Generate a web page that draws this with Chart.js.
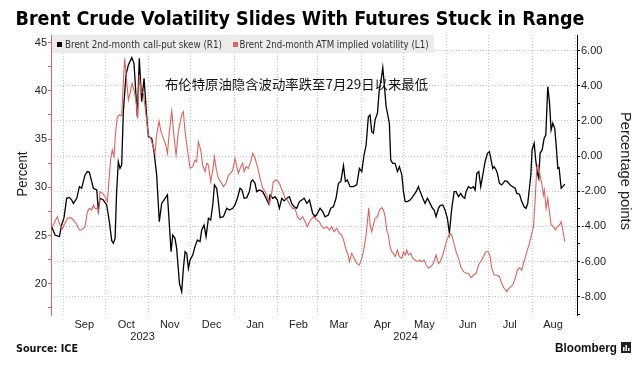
<!DOCTYPE html>
<html>
<head>
<meta charset="utf-8">
<script src="https://cdn.jsdelivr.net/npm/chart.js@4.4.1/dist/chart.umd.min.js"></script>
<style>
  html, body { margin: 0; padding: 0; background: #fff; }
  #wrap { position: relative; width: 643px; height: 365px; }
</style>
</head>
<body>
<div id="wrap"><canvas id="chart" width="643" height="365"></canvas></div>
<script>
// x positions are days counted from 1 Sep 2023
const monthLabels = ["Sep", "Oct", "Nov", "Dec", "Jan", "Feb", "Mar", "Apr", "May", "Jun", "Jul", "Aug"];
const monthStarts = [0, 30, 61, 91, 122, 153, 182, 213, 243, 274, 304, 335, 366];
const yearLabels = ["2023", "2024"];
const yearBreak = 122; // 1 Jan 2024

const leftTicks = [17.5, 20, 22.5, 25, 27.5, 30, 32.5, 35, 37.5, 40, 42.5, 45];
const rightTicks = [-9, -8, -7, -6, -5, -4, -3, -2, -1, 0, 1, 2, 3, 4, 5, 6];

// Brent 2nd-month call-put skew (R1), percentage points
const skewDays = [
  -8.3, -5.9, -2.8, -1.2, 0.5, 2.4, 4.3, 6.0, 7.2, 9.6, 11.5, 13.1, 15.5, 17.2, 18.6, 20.3, 21.5, 23.9, 25.0, 26.2,
  28.6, 31.0, 32.9, 34.6, 35.8, 37.0, 38.1, 39.3, 40.5, 41.7, 42.9, 44.8, 46.5, 48.9, 50.5, 52.9, 54.3, 56.0, 57.7, 59.6,
  60.8, 63.2, 64.8, 66.7, 68.6, 70.3, 72.7, 74.4, 75.8, 77.0, 78.2, 79.8, 81.0, 83.0,
  84.6, 85.8, 87.0, 88.2, 89.4, 90.6, 92.5, 94.1, 95.8, 97.7, 98.9, 100.6, 102.0, 103.7, 105.3, 106.8, 108.0, 109.6, 110.8, 112.0,
  114.4, 116.8, 118.7, 121.1, 122.7, 124.4, 126.3, 127.7, 129.2, 131.1, 133.0, 134.2, 135.4, 137.0, 138.2, 140.1, 142.5, 144.9, 146.6, 147.7,
  149.7, 151.3, 153.0, 154.4, 156.1, 157.8, 159.7, 161.6, 163.2, 164.9, 166.8, 168.7, 170.4, 172.1, 174.0, 175.9,
  178.2, 179.9, 181.6, 183.5, 185.4, 187.1, 189.4, 191.1, 193.0, 194.9, 196.6, 198.3, 200.2, 201.6, 203.0, 204.9, 207.3, 209.7, 211.6, 213.3,
  214.9, 216.4, 218.0, 219.2, 220.4, 221.6, 222.8, 224.5, 225.9, 227.3, 228.3, 229.2, 230.7, 233.0, 234.0, 235.4, 237.1, 238.8, 240.2, 241.9,
  243.1, 244.3, 245.9, 247.8, 249.7, 252.1, 253.8, 255.0, 256.9, 258.5, 260.2, 262.1, 263.8, 265.0, 266.4, 268.1,
  269.3, 271.2, 272.8, 274.5, 275.9, 277.6, 279.3, 280.7, 282.4, 284.0, 285.5, 286.9, 287.8, 289.5, 291.2, 293.1, 294.3, 295.5, 296.9, 298.3,
  299.8, 301.4, 303.1, 304.5, 305.5, 306.9, 307.9, 309.3, 310.2, 311.7, 313.3, 315.7, 317.4, 319.3, 321.2, 322.9, 324.1, 326.0, 327.6, 329.3,
  330.7, 331.9, 333.1, 334.1, 335.0, 336.5, 337.6, 338.8, 339.8, 340.7, 342.2, 343.6, 344.8, 346.2, 347.4, 348.6, 349.8, 351.2, 352.2, 353.4,
  354.3, 355.8, 356.9, 358.4
];
const skewValues = [
  -4.02, -4.49, -4.58, -3.92, -3.50, -2.40, -2.35, -2.50, -2.69, -2.40, -1.74, -1.83, -1.07, -0.88, -0.92, -1.45, -1.83, -1.93, -3.07, -2.40,
  -2.50, -2.78, -3.73, -4.81, -4.96, -4.68, -2.02, -0.32, -0.70, -0.51, 2.53, 4.62, 5.19, 5.60, 5.28, 2.24, 5.57, 3.10, 4.43, 2.24,
  1.11, 1.01, 0.25, -1.07, -3.73, -2.69, -2.40, -2.21, -3.92, -5.44, -4.49, -4.68, -5.25, -7.24,
  -7.71, -6.39, -5.44, -5.53, -6.39, -5.91, -5.63, -5.15, -4.77, -4.87, -4.20, -3.92, -4.58, -3.54, -3.64, -2.78, -1.64, -1.83, -2.59, -3.50,
  -3.45, -2.97, -3.07, -2.97, -2.78, -2.40, -1.83, -1.93, -2.40, -2.36, -2.02, -1.45, -1.36, -1.55, -2.02, -1.93, -2.02, -2.40, -2.69, -2.21,
  -2.40, -2.31, -2.50, -2.97, -2.40, -2.55, -2.40, -2.31, -2.69, -2.88, -2.97, -2.59, -2.50, -2.40, -2.69, -2.50,
  -3.26, -3.45, -3.26, -2.97, -3.16, -3.45, -3.35, -2.97, -2.88, -2.40, -1.55, -1.45, -0.54, -1.45, -1.36, -1.74, -1.74, -1.64, -0.70, -0.88,
  0.06, 0.63, 2.24, 2.34, 1.39, 1.30, 2.06, 2.44, 3.86, 4.43, 5.03, 4.24, 2.82, 1.87, -0.22, -0.41, -0.41, -0.88, -0.60, -1.07,
  -2.02, -2.59, -2.59, -2.50, -2.31, -2.02, -1.74, -2.02, -2.40, -2.69, -2.40, -2.69, -2.97, -3.07, -3.45, -2.97,
  -2.82, -2.78, -3.07, -3.54, -4.39, -2.97, -2.02, -2.02, -2.31, -2.12, -2.31, -2.40, -2.02, -1.74, -1.83, -1.74, -1.93, -0.98, -0.88, -1.74,
  -1.07, -0.32, 0.16, 0.25, -0.13, -0.70, -0.60, -0.79, -0.98, -1.55, -1.64, -1.40, -1.45, -1.64, -1.74, -1.83, -2.12, -2.17, -2.59, -2.88,
  -2.97, -2.69, -1.83, -1.07, 0.35, 0.73, -0.22, -0.98, -1.26, 0.16, 0.35, 1.01, 1.20, 3.95, 3.10, 1.49, 1.87, 1.58, 0.63, -0.70,
  -0.66, -1.83, -1.74, -1.59
];

// Brent 2nd-month ATM implied volatility (L1), percent
const volDays = [
  -8.3, -6.6, -4.3, -2.4, -0.5, 1.2, 2.9, 5.3, 7.2, 9.1, 11.5, 13.1, 15.5, 17.2, 18.6, 20.3, 21.5, 22.7, 24.3, 25.3,
  26.2, 28.1, 29.8, 31.5, 32.9, 33.9, 35.0, 36.2, 37.2, 38.6, 40.0, 41.7, 42.9, 43.9, 45.3, 46.5, 47.7, 49.1, 50.5, 52.0,
  53.2, 54.3, 55.5, 57.2, 59.1, 60.8, 62.4, 63.9, 65.5, 66.7, 68.4, 69.8, 71.5, 73.2, 74.4, 75.8, 77.5, 79.1, 80.6, 82.2,
  84.6, 85.8, 87.0, 88.7, 90.6, 92.5, 94.1, 95.3, 96.5, 98.2, 99.6, 101.3, 102.5, 103.7, 105.3, 106.8, 108.0, 109.2, 110.8, 112.5,
  114.4, 116.3, 118.0, 119.6, 121.1, 122.7, 123.9, 125.1, 126.8, 128.2, 129.2, 130.6, 132.3, 133.9, 135.4, 137.0, 138.7, 140.6, 142.5, 144.2,
  145.8, 147.3, 148.9, 150.1, 152.0, 153.7, 154.9, 156.8, 158.5, 160.1, 162.0, 163.9, 165.6, 167.3, 169.2, 171.1, 172.8, 174.4, 175.9,
  178.7, 181.1, 183.0, 184.7, 186.4, 188.3, 190.2, 191.8, 193.5, 195.4, 197.3, 199.0, 200.6, 202.1, 203.5, 204.5, 206.1, 207.8, 209.7, 211.6,
  213.3, 214.9, 216.4, 217.3, 218.3, 219.2, 220.4, 221.6, 222.8, 224.5, 225.9, 227.6, 228.8, 230.0, 231.1, 232.3, 233.5, 234.7, 235.9, 237.1,
  238.8, 240.2, 241.9, 243.1, 244.3, 245.4, 246.6, 248.3, 249.7, 251.4, 253.1, 254.5, 256.2, 257.8, 259.3, 260.9, 262.6, 264.5, 266.4, 268.1,
  269.3, 271.2, 272.8, 274.5, 276.4, 277.6, 278.8, 280.7, 282.4, 284.0, 286.0, 287.8, 289.5, 291.2, 293.1, 295.0, 296.7, 298.3, 300.2, 302.1,
  303.8, 305.0, 306.2, 307.9, 309.8, 311.7, 313.3, 315.0, 316.9, 318.1, 319.8, 321.2, 322.9, 324.5, 326.0, 327.6, 328.8, 330.3, 331.7, 333.1,
  334.5, 336.0, 337.2, 338.4, 339.6, 340.7, 341.9, 343.1, 343.8, 345.0, 346.2, 347.4, 348.6, 350.3, 351.7, 353.1, 354.6, 355.8, 356.9, 358.4
];
const volValues = [
  25.81, 26.26, 26.95, 26.09, 25.74, 26.26, 26.78, 26.85, 26.61, 26.26, 25.57, 25.57, 25.91, 27.47, 27.81, 27.64, 28.16, 27.81, 27.81, 27.47,
  29.54, 29.37, 29.02, 28.51, 31.27, 32.99, 33.86, 33.17, 35.41, 37.31, 37.49, 37.42, 40.94, 43.36, 40.94, 39.04, 39.73, 40.77, 40.08, 38.87,
  37.14, 41.63, 39.90, 39.73, 37.49, 35.41, 35.07, 34.38, 33.51, 35.41, 36.86, 35.76, 35.07, 34.38, 33.51, 35.76, 37.90, 35.24, 33.34, 35.76,
  37.49, 37.83, 35.76, 33.86, 31.96, 32.13, 32.82, 32.65, 34.72, 33.86, 32.30, 31.61, 32.48, 32.30, 30.58, 31.79, 33.17, 31.96, 30.92, 30.58,
  30.06, 30.41, 31.27, 31.44, 31.79, 33.00, 32.13, 31.44, 32.13, 32.48, 31.61, 32.13, 31.96, 32.65, 33.51, 33.00, 32.13, 30.92, 29.89, 29.54,
  29.02, 28.23, 29.37, 30.58, 30.75, 30.58, 30.23, 29.54, 28.85, 28.68, 28.16, 27.81, 27.81, 26.95, 26.61, 26.95, 26.43, 25.91, 26.43,
  26.95, 26.61, 26.43, 25.91, 25.74, 25.91, 25.57, 25.91, 25.40, 25.74, 25.22, 25.05, 24.36, 23.50, 22.98, 22.29, 23.15, 22.63, 22.11, 21.94,
  22.63, 23.67, 25.05, 26.43, 27.88, 26.09, 25.40, 26.09, 26.78, 26.95, 27.64, 27.88, 27.64, 26.95, 25.57, 25.05, 23.84, 23.32, 23.15, 22.81,
  23.50, 22.81, 22.63, 23.32, 22.98, 23.50, 22.98, 23.15, 22.63, 22.46, 22.29, 22.46, 22.29, 22.46, 21.94, 21.60, 21.77, 22.11, 22.98, 22.11,
  22.29, 22.98, 23.84, 24.70, 25.22, 25.05, 24.36, 23.32, 22.63, 21.77, 21.25, 21.08, 21.08, 20.63, 20.90, 21.08, 21.94, 22.29, 22.81, 23.32,
  23.32, 22.81, 21.60, 20.90, 20.90, 20.73, 20.04, 19.53, 19.18, 19.46, 19.70, 19.87, 20.56, 21.42, 21.67, 21.42, 22.11, 22.81, 23.50, 24.19,
  25.05, 25.91, 28.68, 32.13, 32.30, 31.27, 30.41, 29.20, 29.71, 27.81, 28.85, 27.47, 26.09, 25.91, 25.57, 25.91, 26.09, 26.43, 25.57, 24.36
];

const RED = "#e0625d";
const SKEW_LABEL = "Brent 2nd-month call-put skew (R1)";
const VOL_LABEL = "Brent 2nd-month ATM implied volatility (L1)";
const NOTE = "布伦特原油隐含波动率跌至7月29日以来最低";

// draw text centred on (cx, cy), squeezed/stretched to a given width
function fitText(ctx, text, cx, cy, width, font, color, rot) {
  ctx.save();
  ctx.font = font;
  ctx.fillStyle = color;
  ctx.textAlign = "center";
  ctx.textBaseline = "middle";
  const s = width / ctx.measureText(text).width;
  ctx.translate(cx, cy);
  ctx.rotate(rot || 0);
  ctx.scale(s, 1);
  ctx.fillText(text, 0, 0);
  ctx.restore();
}

const decor = {
  id: "decor",
  beforeDatasetsDraw(chart) {
    const ctx = chart.ctx;
    const a = chart.chartArea;
    // legend box
    ctx.save();
    ctx.fillStyle = "#ececec";
    ctx.fillRect(a.left + 1, a.top, 382, 18);
    ctx.fillStyle = "#000";
    ctx.fillRect(57, 42, 5, 5);
    ctx.fillStyle = RED;
    ctx.fillRect(233, 42, 5, 5);
    ctx.restore();
    fitText(ctx, SKEW_LABEL, 143.5, 45, 157, '10px "DejaVu Sans"', "#333");
    fitText(ctx, VOL_LABEL, 334, 45, 189, '10px "DejaVu Sans"', "#333");
  },
  afterDatasetsDraw(chart) {
    fitText(chart.ctx, NOTE, 296.5, 84, 263, '13px "Noto Sans CJK SC"', "#111");
  },
  afterDraw(chart) {
    const ctx = chart.ctx;
    const x = chart.scales.x;
    fitText(ctx, "Brent Crude Volatility Slides With Futures Stuck in Range", 300, 20, 569, 'bold 20px "DejaVu Sans"', "#000");
    fitText(ctx, "Percent", 23, 174, 45, '14px "Liberation Sans"', "#222", -Math.PI / 2);
    fitText(ctx, "Percentage points", 625, 171, 118, '14px "Liberation Sans"', "#222", Math.PI / 2);
    // year labels centred on the visible part of each year
    const y23 = (x.getPixelForValue(x.min) + x.getPixelForValue(yearBreak)) / 2;
    const y24 = (x.getPixelForValue(yearBreak) + x.getPixelForValue(x.max)) / 2;
    ctx.save();
    ctx.font = '11px "Liberation Sans"';
    ctx.fillStyle = "#222";
    ctx.textAlign = "center";
    ctx.textBaseline = "middle";
    ctx.fillText(yearLabels[0], y23, 337);
    ctx.fillText(yearLabels[1], y24, 337);
    ctx.restore();
    fitText(ctx, "Source: ICE", 47, 349, 62, 'bold 10px "DejaVu Sans"', "#111");
    fitText(ctx, "Bloomberg", 586, 348, 62, 'bold 13px "Liberation Sans"', "#111");
    // small logo mark
    ctx.save();
    ctx.fillStyle = "#222";
    ctx.fillRect(621, 342, 10, 11);
    ctx.fillStyle = "#fff";
    ctx.fillRect(623, 347, 1.5, 4);
    ctx.fillRect(625.5, 345, 1.5, 6);
    ctx.fillRect(628, 348, 1.5, 3);
    ctx.restore();
  }
};

Chart.defaults.font.family = '"Liberation Sans", Arial, sans-serif';

new Chart(document.getElementById("chart"), {
  type: "line",
  data: {
    datasets: [
      {
        label: VOL_LABEL,
        data: volDays.map((d, i) => ({ x: d, y: volValues[i] })),
        yAxisID: "yL",
        borderColor: RED,
        borderWidth: 1.1,
        pointRadius: 0,
        tension: 0,
        order: 0
      },
      {
        label: SKEW_LABEL,
        data: skewDays.map((d, i) => ({ x: d, y: skewValues[i] })),
        yAxisID: "yR",
        borderColor: "#000",
        borderWidth: 1.3,
        pointRadius: 0,
        tension: 0,
        order: 1
      }
    ]
  },
  options: {
    responsive: false,
    animation: false,
    layout: { padding: { top: 35, left: 0, right: 0, bottom: 0 } },
    plugins: { legend: { display: false }, tooltip: { enabled: false } },
    scales: {
      x: {
        type: "linear",
        min: -8.8,
        max: 367.1,
        afterBuildTicks: (ax) => {
          const t = [];
          monthStarts.forEach((m, i) => {
            t.push({ value: m });
            if (i < monthLabels.length) t.push({ value: m + 15 });
          });
          ax.ticks = t;
        },
        ticks: {
          autoSkip: false,
          maxRotation: 0,
          padding: 3,
          color: "#222",
          font: { size: 11 },
          callback: (v) => {
            const i = monthStarts.indexOf(v - 15);
            return i >= 0 ? monthLabels[i] : "";
          }
        },
        grid: {
          drawTicks: false,
          color: (c) => (c.tick && monthStarts.includes(c.tick.value) ? "#c4c4c4" : "rgba(0,0,0,0)")
        },
        border: { display: false, dash: [1, 2] },
        afterFit: (ax) => { ax.height = 50; }
      },
      yL: {
        position: "left",
        min: 16.76,
        max: 45.78,
        afterBuildTicks: (ax) => { ax.ticks = leftTicks.map((v) => ({ value: v })); },
        ticks: {
          autoSkip: false,
          padding: 1,
          color: "#222",
          font: { size: 11 },
          callback: (v) => (v % 5 === 0 ? String(v) : "")
        },
        grid: { drawOnChartArea: false, tickLength: 3, tickColor: RED },
        border: { color: RED, width: 1 },
        afterFit: (ax) => { ax.width = 51; }
      },
      yR: {
        position: "right",
        min: -9.04,
        max: 6.89,
        afterBuildTicks: (ax) => { ax.ticks = rightTicks.map((v) => ({ value: v })); },
        ticks: {
          autoSkip: false,
          padding: 1,
          color: "#222",
          font: { size: 11 },
          callback: (v) => (v % 2 === 0 ? v.toFixed(2) : "")
        },
        grid: {
          tickLength: 3,
          tickColor: "#000",
          tickBorderDash: [],
          color: (c) => (c.tick && c.tick.value % 2 === 0 ? "#c4c4c4" : "rgba(0,0,0,0)")
        },
        border: { color: "#000", width: 1, dash: [1, 2] },
        afterFit: (ax) => { ax.width = 66; }
      }
    }
  },
  plugins: [decor]
});
</script>
</body>
</html>
